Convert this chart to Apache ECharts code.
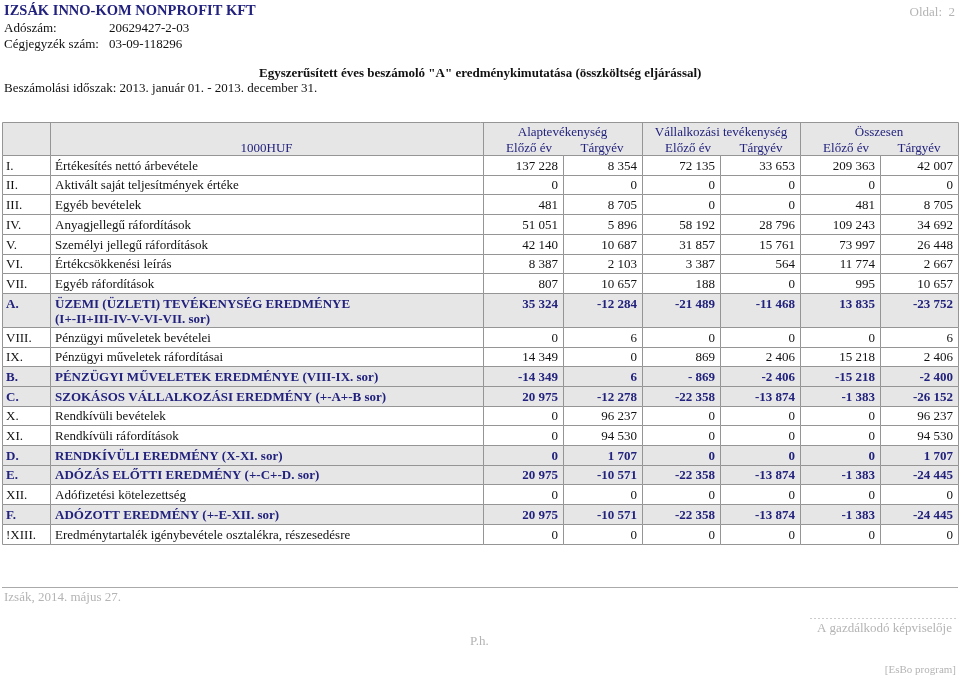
<!DOCTYPE html>
<html><head><meta charset="utf-8">
<script src="https://cdn.jsdelivr.net/npm/echarts@6/dist/echarts.min.js"></script>
<style>html,body{margin:0;padding:0;background:#fff}#c{width:960px;height:676px}</style>
</head><body><div id="c"></div>
<script>
// ---- data ----
const codes = ['I.','II.','III.','IV.','V.','VI.','VII.','A.','VIII.','IX.','B.','C.','X.','XI.','D.','E.','XII.','F.','!XIII.'];
const labels = [
  'Értékesítés nettó árbevétele',
  'Aktivált saját teljesítmények értéke',
  'Egyéb bevételek',
  'Anyagjellegű ráfordítások',
  'Személyi jellegű ráfordítások',
  'Értékcsökkenési leírás',
  'Egyéb ráfordítások',
  'ÜZEMI (ÜZLETI) TEVÉKENYSÉG EREDMÉNYE\n(I+-II+III-IV-V-VI-VII. sor)',
  'Pénzügyi műveletek bevételei',
  'Pénzügyi műveletek ráfordításai',
  'PÉNZÜGYI MŰVELETEK EREDMÉNYE (VIII-IX. sor)',
  'SZOKÁSOS VÁLLALKOZÁSI EREDMÉNY (+-A+-B sor)',
  'Rendkívüli bevételek',
  'Rendkívüli ráfordítások',
  'RENDKÍVÜLI EREDMÉNY (X-XI. sor)',
  'ADÓZÁS ELŐTTI EREDMÉNY (+-C+-D. sor)',
  'Adófizetési kötelezettség',
  'ADÓZOTT EREDMÉNY (+-E-XII. sor)',
  'Eredménytartalék igénybevétele osztalékra, részesedésre'
];
const alapElozo = [137228, 0, 481, 51051, 42140, 8387, 807, 35324, 0, 14349, -14349, 20975, 0, 0, 0, 20975, 0, 20975, 0];
const alapTargy = [8354, 0, 8705, 5896, 10687, 2103, 10657, -12284, 6, 0, 6, -12278, 96237, 94530, 1707, -10571, 0, -10571, 0];
const vallElozo = [72135, 0, 0, 58192, 31857, 3387, 188, -21489, 0, 869, -869, -22358, 0, 0, 0, -22358, 0, -22358, 0];
const vallTargy = [33653, 0, 0, 28796, 15761, 564, 0, -11468, 0, 2406, -2406, -13874, 0, 0, 0, -13874, 0, -13874, 0];
const osszElozo = [209363, 0, 481, 109243, 73997, 11774, 995, 13835, 0, 15218, -15218, -1383, 0, 0, 0, -1383, 0, -1383, 0];
const osszTargy = [42007, 0, 8705, 34692, 26448, 2667, 10657, -23752, 6, 2406, -2400, -26152, 96237, 94530, 1707, -24445, 0, -24445, 0];
const groupNames = ['Alaptevékenység', 'Vállalkozási tevékenység', 'Összesen'];
const subNames = ['Előző év', 'Tárgyév'];
const unitLabel = '1000HUF';
const summaryCodes = ['A.','B.','C.','D.','E.','F.'];

// ---- layout ----
const valueCols = [alapElozo, alapTargy, vallElozo, vallTargy, osszElozo, osszTargy];
const colEdges = [0, 48, 481, 561, 640, 718, 798, 878, 956];
const HEADER_H = 33, ROW_H = 19.7, TALL_H = 34;
const rowHs = labels.map(l => l.indexOf('\n') >= 0 ? TALL_H : ROW_H);
const rowTops = [];
let acc = HEADER_H;
rowHs.forEach(h => { rowTops.push(acc); acc += h; });
const totalH = acc;
const FONT = '"Liberation Serif","Times New Roman",serif';
const FS = 13;
const NAVY = '#22227e';
const LINE = '#959595';
const GREY = '#e6e6e6';

function fmt(v) {
  const s = String(v);
  let out = '';
  for (let i = 0; i < s.length; i++) {
    const fromRight = s.length - i;
    out += s[i];
    if (fromRight > 1 && (fromRight - 1) % 3 === 0) out += ' ';
  }
  return out;
}
function px(v) { return Math.round(v) + 0.5; }

const cellData = [];
for (let r = 0; r < codes.length; r++) for (let c = 0; c < 8; c++) cellData.push([c, r]);

function renderCell(params, api) {
  const c = api.value(0), r = api.value(1);
  const top = rowTops[r], h = rowHs[r];
  const p0 = api.coord([colEdges[c], top]);
  const p1 = api.coord([colEdges[c + 1], top + h]);
  const bold = summaryCodes.indexOf(codes[r]) >= 0;
  const x0 = px(p0[0]), y0 = px(p0[1]), x1 = px(p1[0]), y1 = px(p1[1]);
  const children = [{
    type: 'rect', shape: { x: x0, y: y0, width: x1 - x0, height: y1 - y0 },
    style: { fill: bold ? GREY : '#fff', stroke: LINE, lineWidth: 1 }
  }];
  const ty = p0[1] + 11.3;
  const ts = { fontFamily: FONT, fontSize: FS, fontWeight: bold ? 'bold' : 'normal', fill: bold ? NAVY : '#111', verticalAlign: 'middle' };
  if (c === 0) {
    children.push({ type: 'text', style: Object.assign({}, ts, { text: codes[r], x: p0[0] + 4, y: ty, align: 'left' }) });
  } else if (c === 1) {
    children.push({ type: 'text', style: Object.assign({}, ts, { text: labels[r], x: p0[0] + 5, y: ty - 7.5, verticalAlign: 'top', lineHeight: 15, align: 'left' }) });
  } else {
    children.push({ type: 'text', style: Object.assign({}, ts, { text: fmt(valueCols[c - 2][r]), x: p1[0] - 5, y: ty, align: 'right' }) });
  }
  return { type: 'group', children };
}

function renderHeader(params, api) {
  const p0 = api.coord([0, 0]);
  const p1 = api.coord([956, HEADER_H]);
  const y0 = px(p0[1]), y1 = px(p1[1]);
  const ch = [{ type: 'rect', shape: { x: px(p0[0]), y: y0, width: Math.round(p1[0] - p0[0]), height: y1 - y0 }, style: { fill: GREY, stroke: LINE, lineWidth: 1 } }];
  const vEdges = [colEdges[1], colEdges[2], colEdges[4], colEdges[6]];
  vEdges.forEach(e => {
    const x = px(api.coord([e, 0])[0]);
    ch.push({ type: 'line', shape: { x1: x, y1: y0, x2: x, y2: y1 }, style: { stroke: LINE, lineWidth: 1 } });
  });
  const hs = { fontFamily: FONT, fontSize: FS, fill: NAVY, verticalAlign: 'middle' };
  const cU = api.coord([(colEdges[1] + colEdges[2]) / 2, 26.3]);
  ch.push({ type: 'text', style: Object.assign({}, hs, { text: unitLabel, x: cU[0], y: cU[1], align: 'center' }) });
  for (let g = 0; g < 3; g++) {
    const a = colEdges[2 + g * 2], b = colEdges[4 + g * 2];
    const cg = api.coord([(a + b) / 2, 10.5]);
    ch.push({ type: 'text', style: Object.assign({}, hs, { text: groupNames[g], x: cg[0], y: cg[1], align: 'center' }) });
    const s1 = api.coord([a + 46, 26.3]);
    const s2 = api.coord([a + 119, 26.3]);
    ch.push({ type: 'text', style: Object.assign({}, hs, { text: subNames[0], x: s1[0], y: s1[1], align: 'center' }) });
    ch.push({ type: 'text', style: Object.assign({}, hs, { text: subNames[1], x: s2[0], y: s2[1], align: 'center' }) });
  }
  return { type: 'group', children: ch };
}

const chart = echarts.init(document.getElementById('c'), null, { renderer: 'canvas' });
const FOOT = '#b4b4b4';
const F = FS + 'px ' + FONT;
chart.setOption({
  animation: false,
  backgroundColor: '#fff',
  grid: { left: 2, top: 122, width: 956, height: totalH },
  xAxis: { type: 'value', min: 0, max: 956, show: false },
  yAxis: { type: 'value', min: 0, max: totalH, inverse: true, show: false },
  series: [
    { type: 'custom', renderItem: renderHeader, data: [[0, 0]], clip: false, silent: true },
    { type: 'custom', renderItem: renderCell, data: cellData, clip: false, silent: true }
  ],
  graphic: [
    { type: 'text', left: 4, top: 4, style: { text: 'IZSÁK INNO-KOM NONPROFIT KFT', font: 'bold 14.5px ' + FONT, fill: NAVY } },
    { type: 'text', right: 5, top: 6, style: { text: 'Oldal:  2', font: F, fill: FOOT } },
    { type: 'text', left: 4, top: 22, style: { text: 'Adószám:', font: F, fill: '#111' } },
    { type: 'text', left: 109, top: 22, style: { text: '20629427-2-03', font: F, fill: '#111' } },
    { type: 'text', left: 4, top: 38, style: { text: 'Cégjegyzék szám:', font: F, fill: '#111' } },
    { type: 'text', left: 109, top: 38, style: { text: '03-09-118296', font: F, fill: '#111' } },
    { type: 'text', left: 259, top: 67, style: { text: 'Egyszerűsített éves beszámoló "A" eredménykimutatása (összköltség eljárással)', font: 'bold ' + F, fill: '#111' } },
    { type: 'text', left: 4, top: 82, style: { text: 'Beszámolási időszak: 2013. január 01. - 2013. december 31.', font: F, fill: '#111' } },
    { type: 'line', shape: { x1: 2, y1: 587.5, x2: 958, y2: 587.5 }, style: { stroke: '#aaa', lineWidth: 1 } },
    { type: 'text', left: 4, top: 591, style: { text: 'Izsák, 2014. május 27.', font: F, fill: FOOT } },
    { type: 'text', left: 470, top: 635, style: { text: 'P.h.', font: F, fill: FOOT } },
    { type: 'line', shape: { x1: 810, y1: 618.5, x2: 956, y2: 618.5 }, style: { stroke: '#ccc', lineWidth: 1, lineDash: [2, 2] } },
    { type: 'text', right: 8, top: 622, style: { text: 'A gazdálkodó képviselője', font: F, fill: FOOT } },
    { type: 'text', right: 4, top: 665, style: { text: '[EsBo program]', font: '11px ' + FONT, fill: FOOT } }
  ]
});
</script></body></html>
